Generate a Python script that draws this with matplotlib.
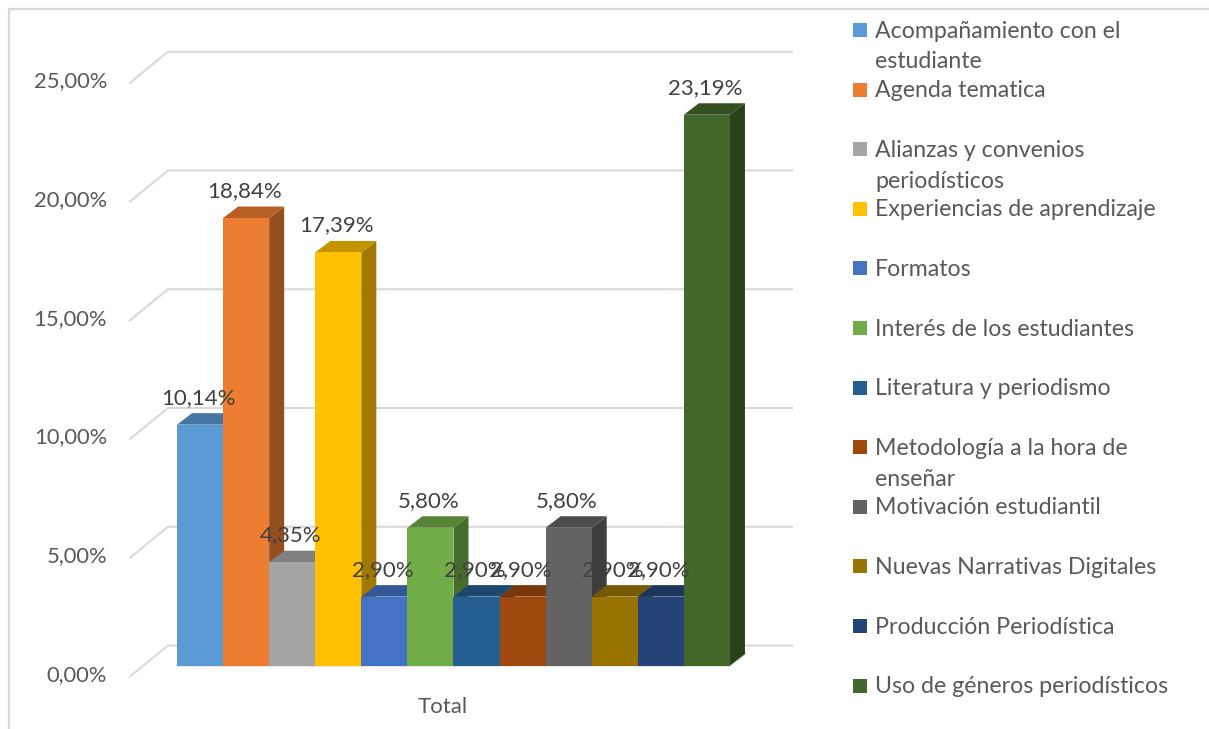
import matplotlib
matplotlib.use("Agg")
import matplotlib.pyplot as plt
from matplotlib.colors import to_rgb
from matplotlib.patches import Polygon, Rectangle

# Data
categories = [
    "Acompañamiento con el\nestudiante",
    "Agenda tematica",
    "Alianzas y convenios\nperiodísticos",
    "Experiencias de aprendizaje",
    "Formatos",
    "Interés de los estudiantes",
    "Literatura y periodismo",
    "Metodología a la hora de\nenseñar",
    "Motivación estudiantil",
    "Nuevas Narrativas Digitales",
    "Producción Periodística",
    "Uso de géneros periodísticos",
]
values = [10.14, 18.84, 4.35, 17.39, 2.90, 5.80, 2.90, 2.90, 5.80, 2.90, 2.90, 23.19]
colors = ["#5B9BD5", "#ED7D31", "#A5A5A5", "#FFC000", "#4472C4", "#70AD47",
          "#255E91", "#9E480E", "#636363", "#997300", "#264478", "#43682B"]
ticks = [0, 5, 10, 15, 20, 25]

W, H = 1209, 729
BAR_W = 46.08   # pixels per bar
PCT = 23.75     # pixels per percent
X0, Y0 = 177, 665.5

GRID = "#D9D9D9"
TEXT = "#595959"
plt.rcParams["font.family"] = ["Lato", "DejaVu Sans"]

fig = plt.figure(figsize=(W / 100, H / 100), dpi=100)
ax = fig.add_axes([0, 0, 1, 1])
ax.set_xlim(-X0 / BAR_W, (W - X0) / BAR_W)
ax.set_ylim((Y0 - H) / PCT, Y0 / PCT)
ax.axis("off")


def xp(px):
    return (px - X0) / BAR_W


def yp(px):
    return (Y0 - px) / PCT


def dark(color, f):
    return tuple(c * f for c in to_rgb(color))


# outer chart border
ax.plot([xp(9), xp(9), xp(W)], [yp(H), yp(9), yp(9)], color=GRID, lw=1.6)

# gridlines on the back wall and side wall
wall_x = (168 - X0) / BAR_W
wall_end = (792 - X0) / BAR_W
wall_front = (130 - X0) / BAR_W
back_dy = 20 / PCT
side_dy = 31 / PCT
for t in ticks:
    ax.plot([wall_front, wall_x, wall_end],
            [t + back_dy - side_dy, t + back_dy, t + back_dy], color=GRID, lw=1.5, zorder=1)
    ax.text(xp(107), t + back_dy - 29.5 / PCT, f"{t:.2f}%".replace(".", ","),
            ha="right", va="center", fontsize=15.8, color=TEXT)

# bars: side, top, front, left to right so each covers its neighbour
dx = 15 / BAR_W
dy = 11.5 / PCT
n = len(values)
ax.plot([0, n, n + dx], [0, 0, dy], color=GRID, lw=1.6, zorder=1)
for i, (v, c) in enumerate(zip(values, colors)):
    z = 2 + i
    ax.add_patch(Polygon([(i + 1, 0), (i + 1 + dx, dy), (i + 1 + dx, v + dy), (i + 1, v)],
                         facecolor=dark(c, 0.63), edgecolor="none", zorder=z))
    ax.add_patch(Polygon([(i, v), (i + dx, v + dy), (i + 1 + dx, v + dy), (i + 1, v)],
                         facecolor=dark(c, 0.77), edgecolor="none", zorder=z))
    ax.add_patch(Rectangle((i, 0), 1, v, facecolor=c, edgecolor="none", zorder=z))

# data labels
for i, v in enumerate(values):
    ax.text(i + 0.5 - 2 / BAR_W, v + 27 / PCT, f"{v:.2f}%".replace(".", ","),
            ha="center", va="center", fontsize=16, color="#404040", zorder=30)

ax.text(xp(443), yp(707), "Total", ha="center", va="center", fontsize=16, color=TEXT)

# legend, evenly spaced rows
row_y = 30
row_step = 59.6
for i, (name, c) in enumerate(zip(categories, colors)):
    y = row_y + i * row_step
    ax.add_patch(Rectangle((xp(853), yp(y + 7)), 14 / BAR_W, 14 / PCT, facecolor=c, edgecolor="none"))
    for j, line in enumerate(name.split("\n")):
        ax.text(xp(875), yp(y + 1 + j * 31), line, ha="left", va="center", fontsize=16.7, color=TEXT)

fig.savefig("out.png", dpi=100)
